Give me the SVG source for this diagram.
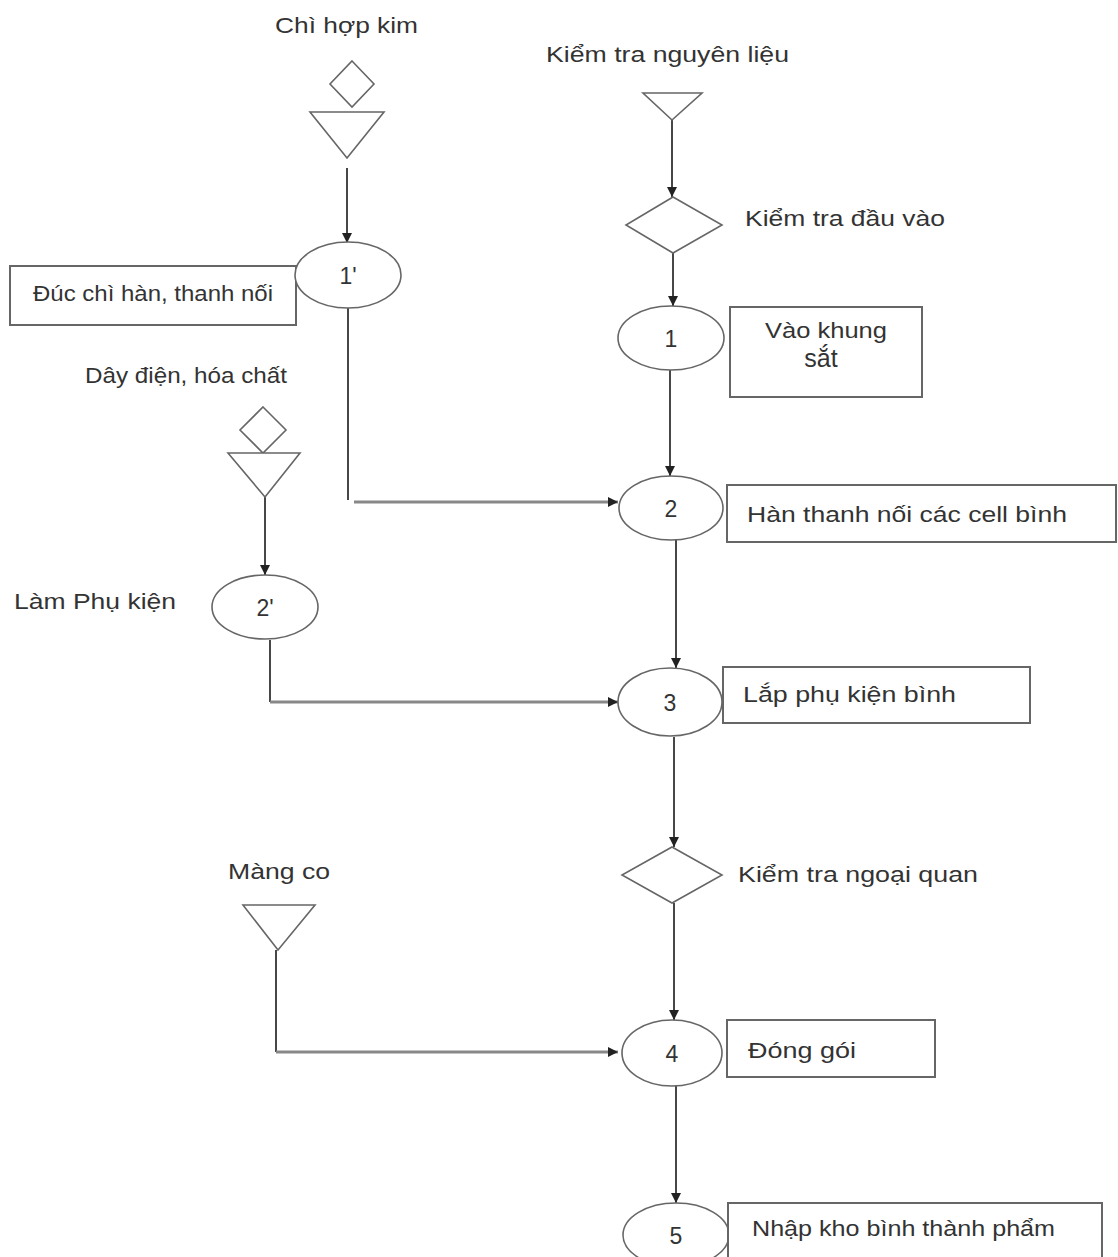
<svg xmlns="http://www.w3.org/2000/svg" width="1118" height="1257" viewBox="0 0 1118 1257">
<defs>
<style>
.t{font-family:"Liberation Sans",Arial,sans-serif;font-size:22px;fill:#333}
.n{font-family:"Liberation Sans",Arial,sans-serif;font-size:23px;fill:#333;text-anchor:middle}
.sh{fill:#fff;stroke:#666;stroke-width:1.6}
.bx{fill:#fff;stroke:#666;stroke-width:2}
.ln{fill:none;stroke:#333;stroke-width:1.8}
.hl{fill:none;stroke:#888;stroke-width:3}
</style>
<marker id="ar" viewBox="0 0 10 10" refX="10" refY="5" markerWidth="10" markerHeight="10" markerUnits="userSpaceOnUse" orient="auto">
<path d="M0,0 L10,5 L0,10 z" fill="#222"/>
</marker>
</defs>
<rect width="1118" height="1257" fill="#fff"/>

<g id="connectors">
<path class="ln" d="M347,168 V243" marker-end="url(#ar)"/>
<path class="ln" d="M348,308 V500"/>
<path class="hl" d="M354,502 H618" marker-end="url(#ar)"/>
<path class="ln" d="M265,497 V575" marker-end="url(#ar)"/>
<path class="ln" d="M270,640 V702"/>
<path class="hl" d="M270,702 H618" marker-end="url(#ar)"/>
<path class="ln" d="M672,120 V197" marker-end="url(#ar)"/>
<path class="ln" d="M673,253 V306" marker-end="url(#ar)"/>
<path class="ln" d="M670,370 V476" marker-end="url(#ar)"/>
<path class="ln" d="M676,540 V668" marker-end="url(#ar)"/>
<path class="ln" d="M674,737 V847" marker-end="url(#ar)"/>
<path class="ln" d="M674,903 V1020" marker-end="url(#ar)"/>
<path class="ln" d="M276,950 V1052"/>
<path class="hl" d="M276,1052 H618" marker-end="url(#ar)"/>
<path class="ln" d="M676,1085 V1203" marker-end="url(#ar)"/>
</g>

<g id="input-chi">
<text class="t" x="275" y="33" textLength="143" lengthAdjust="spacingAndGlyphs">Chì hợp kim</text>
<polygon class="sh" points="352,61 374,84 352,107 330,84"/>
<polygon class="sh" points="310,112 384,112 347,158"/>
</g>

<g id="node-1p">
<rect class="bx" x="10" y="266" width="286" height="59"/>
<text class="t" x="33" y="301" textLength="240" lengthAdjust="spacingAndGlyphs">Đúc chì hàn, thanh nối</text>
<ellipse class="sh" cx="348" cy="275" rx="53" ry="33"/>
<text class="n" x="348" y="284">1'</text>
</g>

<g id="input-day">
<text class="t" x="85" y="383" textLength="202" lengthAdjust="spacingAndGlyphs">Dây điện, hóa chất</text>
<polygon class="sh" points="263,407 286,430 263,453 240,430"/>
<polygon class="sh" points="228,453 300,453 265,497"/>
</g>

<g id="node-2p">
<text class="t" x="14" y="609" textLength="162" lengthAdjust="spacingAndGlyphs">Làm Phụ kiện</text>
<ellipse class="sh" cx="265" cy="607" rx="53" ry="32"/>
<text class="n" x="265" y="616">2'</text>
</g>

<g id="input-kiemtra">
<text class="t" x="546" y="62" textLength="243" lengthAdjust="spacingAndGlyphs">Kiểm tra nguyên liệu</text>
<polygon class="sh" points="643,93 702,93 672,120"/>
</g>

<g id="check-dauvao">
<polygon class="sh" points="673,197 722,225 673,253 626,225"/>
<text class="t" x="745" y="226" textLength="200" lengthAdjust="spacingAndGlyphs">Kiểm tra đầu vào</text>
</g>

<g id="node-1">
<ellipse class="sh" cx="671" cy="338" rx="53" ry="32"/>
<text class="n" x="671" y="347">1</text>
<rect class="bx" x="730" y="307" width="192" height="90"/>
<text class="t" x="765" y="338" textLength="122" lengthAdjust="spacingAndGlyphs">Vào khung</text>
<text class="t" x="821" y="367" text-anchor="middle" style="font-size:25px">sắt</text>
</g>

<g id="node-2">
<ellipse class="sh" cx="671" cy="508" rx="52" ry="32"/>
<text class="n" x="671" y="517">2</text>
<rect class="bx" x="727" y="485" width="389" height="57"/>
<text class="t" x="747" y="522" textLength="320" lengthAdjust="spacingAndGlyphs">Hàn thanh nối các cell bình</text>
</g>

<g id="node-3">
<ellipse class="sh" cx="670" cy="702" rx="52" ry="34"/>
<text class="n" x="670" y="711">3</text>
<rect class="bx" x="723" y="667" width="307" height="56"/>
<text class="t" x="743" y="702" textLength="213" lengthAdjust="spacingAndGlyphs">Lắp phụ kiện bình</text>
</g>

<g id="check-ngoaiquan">
<polygon class="sh" points="672,847 722,875 672,903 622,875"/>
<text class="t" x="738" y="882" textLength="240" lengthAdjust="spacingAndGlyphs">Kiểm tra ngoại quan</text>
</g>

<g id="input-mangco">
<text class="t" x="228" y="879" textLength="102" lengthAdjust="spacingAndGlyphs">Màng co</text>
<polygon class="sh" points="243,905 315,905 278,950"/>
</g>

<g id="node-4">
<ellipse class="sh" cx="672" cy="1053" rx="50" ry="33"/>
<text class="n" x="672" y="1062">4</text>
<rect class="bx" x="727" y="1020" width="208" height="57"/>
<text class="t" x="748" y="1058" textLength="108" lengthAdjust="spacingAndGlyphs">Đóng gói</text>
</g>

<g id="node-5">
<ellipse class="sh" cx="676" cy="1235" rx="53" ry="32"/>
<text class="n" x="676" y="1244">5</text>
<rect class="bx" x="728" y="1203" width="374" height="70"/>
<text class="t" x="752" y="1236" textLength="303" lengthAdjust="spacingAndGlyphs">Nhập kho bình thành phẩm</text>
</g>
</svg>
